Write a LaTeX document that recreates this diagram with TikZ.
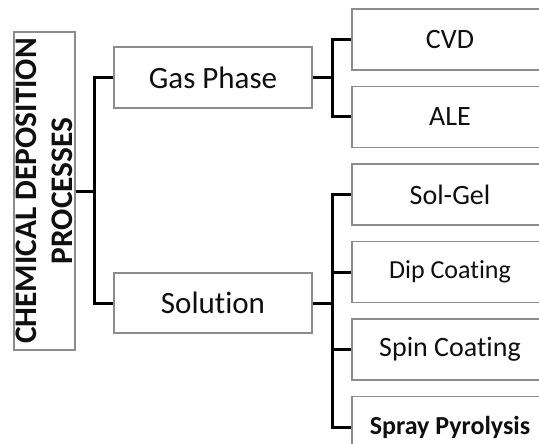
\documentclass[tikz,border=0pt]{standalone}
\usepackage{fontspec}
\setmainfont{Carlito}[Ligatures=NoCommon]
\usepackage{xcolor}
\usepackage{tikz}
\usetikzlibrary{positioning}
\definecolor{boxline}{RGB}{140,140,140}
\definecolor{ink}{RGB}{15,15,15}

\begin{document}
\begin{tikzpicture}[
  x=0.5pt, y=-0.5pt,
  text=ink,
  box/.style={draw=boxline, line width=0.75pt, fill=white, align=center, inner sep=0pt},
  group/.style={box, minimum width=99pt, minimum height=30.5pt, font=\fontsize{15.5}{18}\selectfont},
  leaf/.style={box, minimum width=98pt, minimum height=30.5pt, font=\fontsize{14}{16}\selectfont},
  link/.style={line width=1.5pt, black}
]
\useasboundingbox (0,0) rectangle (539,443);
\clip (0,0) rectangle (539,443);

\node[box, rotate=90, minimum width=159pt, minimum height=30.5pt,
  font=\fontsize{15.7}{18}\selectfont\bfseries] (root) at (44.5,191)
  {CHEMICAL DEPOSITION\\PROCESSES};

\node[group] (gas) at (213,77.5) {Gas Phase};
\node[group, minimum height=30pt] (sol) at (213,303) {Solution};

\node[leaf] (cvd) at (450,39.5) {CVD};
\node[leaf, below=7.5pt of cvd] (ale) {ALE};
\node[leaf, below=7.5pt of ale] (solgel) {Sol-Gel};
\node[leaf, below=7.5pt of solgel, font=\fontsize{13}{15}\selectfont] (dip) {Dip Coating};
\node[leaf, below=7.5pt of dip] (spin) {Spin Coating};
\node[leaf, below=7.5pt of spin, font=\fontsize{13}{15}\selectfont\bfseries] (spray) {Spray Pyrolysis};

\draw[link] (root.south) -- ++(19,0) |- (gas.west);
\draw[link] (root.south) -- ++(19,0) |- (sol.west);

\draw[link] (gas.east) -- ++(20,0) |- (cvd.west);
\draw[link] (gas.east) -- ++(20,0) |- (ale.west);

\foreach \kid in {solgel,dip,spin,spray}
  \draw[link] (sol.east) -- ++(20,0) |- (\kid.west);
\end{tikzpicture}
\end{document}
